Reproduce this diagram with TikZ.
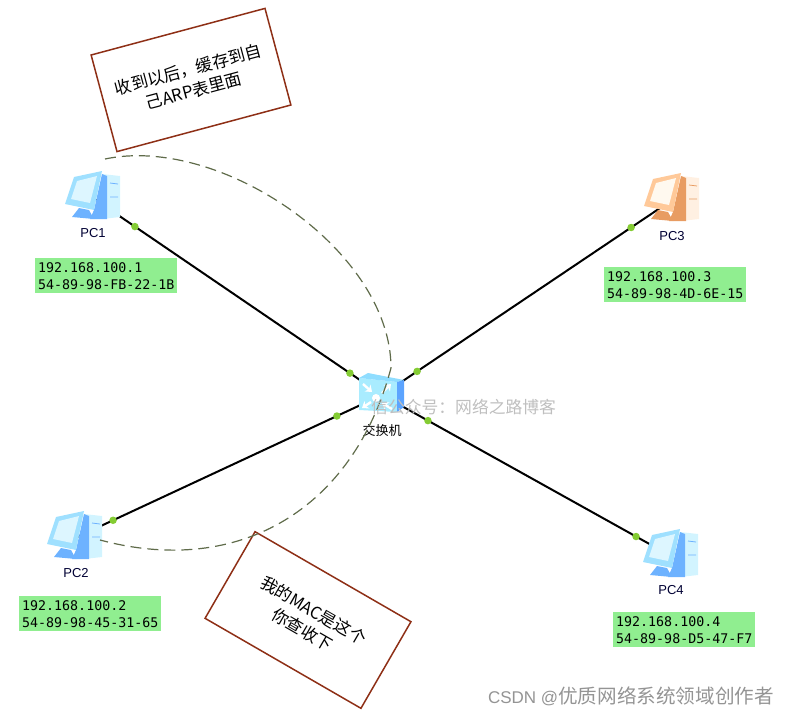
\documentclass[tikz,border=0pt]{standalone}
\usepackage{fontspec}
\setmainfont{Liberation Sans}
\setmonofont{DejaVu Sans Mono}
\newfontfamily\cjk{Noto Sans CJK SC}
\usetikzlibrary{arrows.meta,positioning}

\definecolor{facebl}{HTML}{9FE0FF}
\definecolor{sidebl}{HTML}{6DB2FF}
\definecolor{towerbl}{HTML}{D2F4FF}
\definecolor{screenbl}{HTML}{DDF6FF}
\definecolor{faceor}{HTML}{FFC999}
\definecolor{sideor}{HTML}{E89C62}
\definecolor{toweror}{HTML}{FFF0E2}
\definecolor{screenor}{HTML}{FFF9EF}
\definecolor{notered}{HTML}{8E2F16}
\definecolor{arcgreen}{HTML}{5F6B4A}
\definecolor{infogreen}{HTML}{90EE90}
\definecolor{portgreen}{HTML}{84CC33}
\definecolor{swfront}{HTML}{A9ECFF}
\definecolor{swtop}{HTML}{8FDDFF}
\definecolor{swside}{HTML}{5CA4FF}

\tikzset{
    pcbox/.style={minimum width=52pt, minimum height=50pt, inner sep=0pt},
    swbox/.style={minimum width=46pt, minimum height=40pt, inner sep=0pt},
    portdot/.style={circle, fill=portgreen, minimum size=7.5pt, inner sep=0pt},
    link/.style={line width=2pt, black},
    arcline/.style={arcgreen, line width=1.2pt, dash pattern=on 11pt off 6pt},
    notebox/.style={draw=notered, line width=1.5pt, minimum width=180pt, minimum height=100pt,
        align=center, font=\cjk\fontsize{16.8}{22}\selectfont},
    infobox/.style={fill=infogreen, anchor=north west, minimum width=142pt, minimum height=35pt,
        inner sep=3pt, align=left, font=\ttfamily\fontsize{13.3}{17}\selectfont},
    pclabel/.style={font=\fontsize{13}{15}\selectfont, text=black!80!blue, inner sep=0pt},
    mark text/.style={text=black!25, font=\cjk\fontsize{16.8}{20}\selectfont, inner sep=0pt},
    pics/pcicon/.style={code={
        % tower, then monitor
        \fill[tower#1] (9,-24) -- (27,-22) -- (27,19) -- (9,21) -- cycle;
        \fill[side#1] (9,-24) -- (14,-22) -- (14,21) -- (-3,21) -- (1,12) -- cycle;
        \fill[side#1] (-21,19) -- (-14,10) -- (-4,12) -- (1,21) -- cycle;
        \fill[face#1] (-19,-21) -- (9,-27) -- (1,12) -- (-28,6) -- cycle;
        \fill[screen#1] (-16,-17) -- (4,-22) -- (-3,5) -- (-22,1) -- cycle;
        \draw[side#1, line width=0.8pt] (17,-15) -- (25,-14) (17,-1) -- (25,-1);
    }},
    pics/swicon/.style={code={
        \fill[swfront] (-23,-17) -- (15,-13) -- (15,17) -- (-23,15) -- cycle;
        \fill[swtop] (-23,-17) -- (-14,-22) -- (22,-15) -- (15,-13) -- cycle;
        \fill[swside] (15,-13) -- (22,-15) -- (22,12) -- (15,17) -- cycle;
        \fill[white] (-6,3) circle (4pt);
        \draw[white, line width=2.4pt, -{Stealth[length=6pt,width=9pt]}] (-19,-11) -- (-10,-3);
        \draw[white, line width=2.4pt, -{Stealth[length=6pt,width=9pt]}] (0,-2) -- (9,-11);
        \draw[white, line width=2.4pt, -{Stealth[length=6pt,width=9pt]}] (-11,7) -- (-20,13);
        \draw[white, line width=2.4pt, -{Stealth[length=6pt,width=9pt]}] (10,14) -- (0,8);
    }},
}

\begin{document}
\begin{tikzpicture}[x=1pt, y=-1pt]
    \useasboundingbox (0,0) rectangle (789,715);

    \node[pcbox] (PC1) at (93,198) {};
    \node[pcbox] (PC2) at (75,538) {};
    \node[pcbox] (PC3) at (672,200) {};
    \node[pcbox] (PC4) at (671,556) {};
    \node[swbox] (SW) at (382,395) {};

    \draw[link] (PC1.center) -- node[portdot, pos=0.145] (p1a) {} node[portdot, pos=0.889] (p1b) {} (SW.center);
    \draw[link] (PC2.center) -- node[portdot, pos=0.124] (p2a) {} node[portdot, pos=0.853] (p2b) {} (SW.center);
    \draw[link] (PC3.center) -- node[portdot, pos=0.141] (p3a) {} node[portdot, pos=0.879] (p3b) {} (SW.center);
    \draw[link] (PC4.center) -- node[portdot, pos=0.121] (p4a) {} node[portdot, pos=0.841] (p4b) {} (SW.center);

    \pic at (PC1) {pcicon=bl};
    \pic at (PC2) {pcicon=bl};
    \pic at (PC3) {pcicon=or};
    \pic at (PC4) {pcicon=bl};
    \pic at (SW) {swicon};

    \node[pclabel] (PC1name) at (93,233) {PC1};
    \node[pclabel] (PC2name) at (76,573) {PC2};
    \node[pclabel] (PC3name) at (672,236) {PC3};
    \node[pclabel] (PC4name) at (671,590) {PC4};
    \node[inner sep=0pt, font=\cjk\fontsize{13}{15}\selectfont] (SWname) at (382,431) {交换机};

    \node[infobox] (PC1info) at (35,258) {192.168.100.1\\54-89-98-FB-22-1B};
    \node[infobox] (PC2info) at (19,596) {192.168.100.2\\54-89-98-45-31-65};
    \node[infobox] (PC3info) at (604,267) {192.168.100.3\\54-89-98-4D-6E-15};
    \node[infobox] (PC4info) at (613,612) {192.168.100.4\\54-89-98-D5-47-F7};

    \node[notebox, rotate=15] (note1) at (191,80) {收到以后，缓存到自\\己ARP表里面};
    \node[notebox, rotate=-30] (note2) at (308,620) {我的MAC是这个\\你查收下};

    \coordinate (arcA) at (105,159);
    \coordinate (arcB) at (391,368);
    \coordinate (arcC) at (100,540);
    \draw[arcline] (arcA) to[out=12,in=90,looseness=0.85] (arcB) to[out=-105,in=-15,looseness=1.1] (arcC);

    \node[mark text, anchor=west] (mark1) at (371,407) {信公众号：网络之路博客};
    \node[mark text, anchor=east, text=black!42, font=\fontsize{17}{20}\selectfont] (mark2) at (774,696) {CSDN @{\cjk\fontsize{19.6}{20}\selectfont 优质网络系统领域创作者}};
\end{tikzpicture}
\end{document}
